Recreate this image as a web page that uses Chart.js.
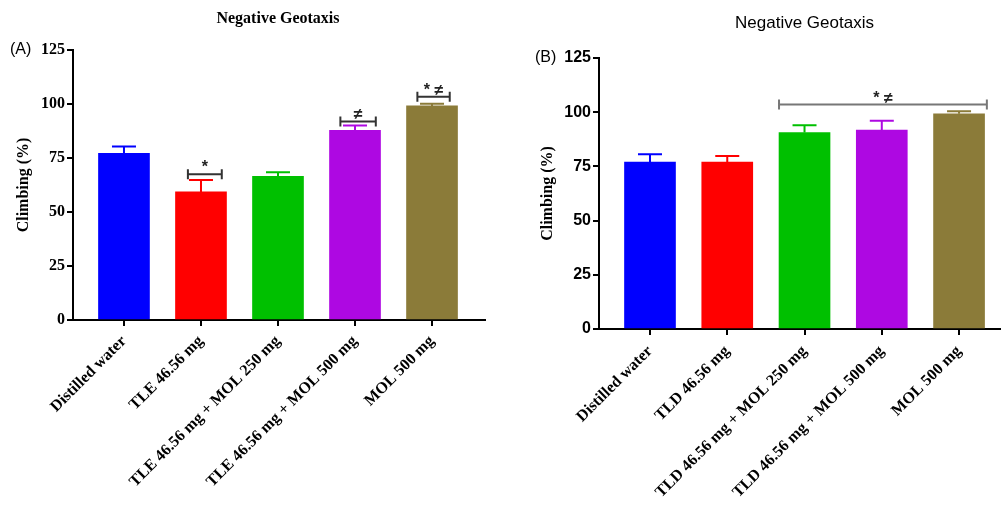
<!DOCTYPE html>
<html>
<head>
<meta charset="utf-8">
<script src="https://cdn.jsdelivr.net/npm/chart.js@4.4.1/dist/chart.umd.min.js"></script>
<style>
  body { margin: 0; background: #fff; }
  #wrapA { position: absolute; left: 0; top: 0; width: 500px; height: 506px; }
  #wrapB { position: absolute; left: 500px; top: 0; width: 502px; height: 506px; }
</style>
</head>
<body>
<div id="wrapA"><canvas id="chartA" width="500" height="506"></canvas></div>
<div id="wrapB"><canvas id="chartB" width="502" height="506"></canvas></div>
<script>
// panel A data
const labelsA = ["Distilled water", "TLE 46.56 mg", "TLE 46.56 mg + MOL 250 mg", "TLE 46.56 mg + MOL 500 mg", "MOL 500 mg"];
const meansA = [77.2, 59.3, 66.5, 87.8, 99.1];
const semA = [3.1, 5.5, 1.9, 2.2, 1.0];
const bracketsA = [
  { from: 0.83, to: 1.27, y: 67.5, text: "*" },
  { from: 2.81, to: 3.27, y: 91.9, text: "\u2260" },
  { from: 3.81, to: 4.23, y: 103.4, text: "* \u2260" },
];

// panel B data
const labelsB = ["Distilled water", "TLD 46.56 mg", "TLD 46.56 mg + MOL 250 mg", "TLD 46.56 mg + MOL 500 mg", "MOL 500 mg"];
const meansB = [77.0, 77.0, 90.6, 91.8, 99.3];
const semB = [3.6, 2.8, 3.4, 4.2, 1.1];
const bracketsB = [
  { from: 1.67, to: 4.36, y: 103.5, text: "* \u2260" },
];

const yTicks = [0, 25, 50, 75, 100, 125];
const barColors = ["#0000FF", "#FF0000", "#00C000", "#AE08E2", "#8B7B39"];

const SERIF = "'Liberation Serif', 'Times New Roman', serif";
const SANS = "'Liberation Sans', Arial, sans-serif";

// error bars (upward only) + significance brackets + titles
const extrasPlugin = {
  id: "extras",
  afterDatasetsDraw(chart, args, opts) {
    const ctx = chart.ctx;
    const x = chart.scales.x, y = chart.scales.y;
    const meta = chart.getDatasetMeta(0);
    ctx.save();
    meta.data.forEach((bar, i) => {
      const top = y.getPixelForValue(opts.means[i] + opts.sem[i]);
      ctx.strokeStyle = barColors[i];
      ctx.lineWidth = 2;
      ctx.beginPath();
      ctx.moveTo(bar.x, bar.y);
      ctx.lineTo(bar.x, top);
      ctx.moveTo(bar.x - 12, top);
      ctx.lineTo(bar.x + 12, top);
      ctx.stroke();
    });

    opts.brackets.forEach(b => {
      const x1 = x.getPixelForValue(b.from), x2 = x.getPixelForValue(b.to);
      const yy = y.getPixelForValue(b.y);
      ctx.strokeStyle = opts.bracketColor;
      ctx.lineWidth = 2;
      ctx.beginPath();
      ctx.moveTo(x1, yy); ctx.lineTo(x2, yy);
      ctx.moveTo(x1, yy - 5); ctx.lineTo(x1, yy + 5);
      ctx.moveTo(x2, yy - 5); ctx.lineTo(x2, yy + 5);
      ctx.stroke();
      ctx.fillStyle = "#222";
      ctx.font = "bold 16px " + SANS;
      ctx.textAlign = "center";
      ctx.textBaseline = "alphabetic";
      ctx.fillText(b.text, (x1 + x2) / 2, yy - 2);
    });

    const area = chart.chartArea;
    ctx.fillStyle = "#000";
    ctx.textAlign = "center";
    ctx.textBaseline = "middle";
    ctx.font = opts.titleFont;
    ctx.fillText("Negative Geotaxis", (area.left + area.right) / 2 + opts.titleShift, opts.titleY);
    ctx.font = "16px " + SANS;
    ctx.textAlign = "left";
    ctx.fillText(opts.panel, opts.panelX, area.top);
    ctx.restore();
  }
};

function makeChart(id, labels, means, sem, brackets, cfg) {
  return new Chart(document.getElementById(id), {
    type: "bar",
    data: {
      datasets: [{
        data: means.map((v, i) => ({ x: i, y: v })),
        backgroundColor: barColors,
        borderWidth: 0,
        barThickness: 51,
      }],
    },
    options: {
      responsive: false,
      animation: false,
      layout: { padding: cfg.padding },
      plugins: {
        legend: { display: false },
        tooltip: { enabled: false },
        extras: {
          means, sem, brackets,
          bracketColor: cfg.bracketColor,
          titleFont: cfg.titleFont,
          titleY: cfg.titleY,
          titleShift: cfg.titleShift,
          panel: cfg.panel,
          panelX: cfg.panelX,
        },
      },
      scales: {
        x: {
          type: "linear",
          offset: false,
          min: cfg.xMin,
          max: cfg.xMax,
          afterBuildTicks: (s) => { s.ticks = labels.map((l, i) => ({ value: i })); },
          afterFit: (s) => { s.height = cfg.xHeight; },
          ticks: {
            autoSkip: false,
            maxRotation: 45,
            minRotation: 45,
            padding: cfg.xPad,
            color: "#000",
            font: { family: SERIF, size: 16, weight: "bold" },
            callback: (v) => labels[v],
          },
          grid: { offset: false, drawOnChartArea: false, drawTicks: true, tickLength: 6, color: "#000", lineWidth: 2 },
          border: { color: "#000", width: 2 },
        },
        y: {
          min: 0,
          max: 125,
          afterBuildTicks: (s) => { s.ticks = yTicks.map(v => ({ value: v })); },
          afterFit: (s) => { s.width = cfg.yWidth; },
          ticks: {
            padding: 2,
            color: "#000",
            font: cfg.tickFont,
          },
          title: {
            display: true,
            text: "Climbing (%)",
            color: "#000",
            font: { family: SERIF, size: 16, weight: "bold" },
            padding: { top: cfg.yTitlePad, bottom: 0 },
          },
          grid: { drawOnChartArea: false, drawTicks: true, tickLength: 6, color: "#000", lineWidth: 2 },
          border: { color: "#000", width: 2 },
        },
      },
    },
    plugins: [extrasPlugin],
  });
}

makeChart("chartA", labelsA, meansA, semA, bracketsA, {
  padding: { top: 50, left: 0, right: 15, bottom: 0 },
  xMin: -0.662, xMax: 4.688, xHeight: 186, yWidth: 73, yTitlePad: 14, xPad: 6,
  tickFont: { family: SERIF, size: 16, weight: "bold" },
  titleFont: "bold 16px " + SERIF, titleY: 19, titleShift: -1,
  bracketColor: "#333", panel: "(A)", panelX: 10,
});

makeChart("chartB", labelsB, meansB, semB, bracketsB, {
  padding: { top: 58, left: 0, right: 2, bottom: 0 },
  xMin: -0.66, xMax: 4.53, xHeight: 177, yWidth: 99, yTitlePad: 38, xPad: 7,
  tickFont: { family: SANS, size: 16, weight: "bold" },
  titleFont: "17px " + SANS, titleY: 23, titleShift: 5,
  bracketColor: "#777", panel: "(B)", panelX: 35,
});
</script>
</body>
</html>
